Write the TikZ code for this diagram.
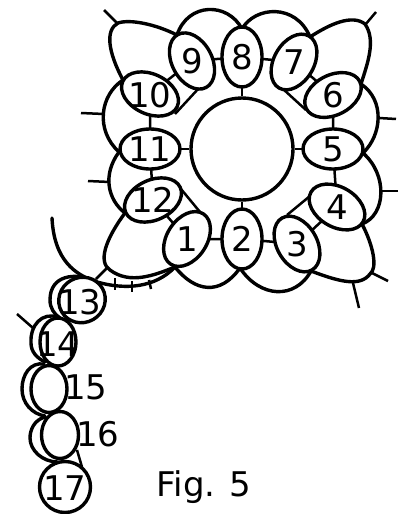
\documentclass[tikz,border=0pt]{standalone}
\usepackage{fontspec}
\setmainfont{DejaVu Sans}
\usetikzlibrary{shapes.geometric}
\tikzset{
  ln/.style={line width=3.4pt,line cap=round,line join=round,black},
  thin ln/.style={line width=2.5pt,line cap=butt,black},
  bead/.style={ellipse,draw,line width=3.4pt,fill=white,inner sep=0pt,outer sep=0pt,minimum width=40pt,minimum height=60pt},
  num/.style={font=\fontsize{34}{34}\selectfont,inner sep=0pt,text=black}
}
\begin{document}
\begin{tikzpicture}[x=1pt,y=-1pt]
\useasboundingbox (0,0) rectangle (406,514);
% junctions
\coordinate (j98) at (177,35);
\coordinate (j87) at (242,29);
\coordinate (j76) at (310,37);
\coordinate (j61) at (361,84);
\coordinate (j65) at (363,153);
\coordinate (j43) at (362,224);
\coordinate (j32) at (311,271);
\coordinate (j21) at (240,268);
\coordinate (j10) at (175,267);
\coordinate (j12) at (125,213);
\coordinate (j11) at (119,152);
\coordinate (j1011) at (123,80);
% picot tips
\coordinate (p1) at (104,10);  \coordinate (p1b) at (118,24);
\coordinate (p2) at (376,12);  \coordinate (p2b) at (365,25);
\coordinate (p3) at (396,119); \coordinate (p3b) at (379,118);
\coordinate (p4) at (81,113);  \coordinate (p4b) at (104,114);
\coordinate (p5) at (398,191); \coordinate (p5b) at (380,191);
\coordinate (p6) at (88,181);  \coordinate (p6b) at (110,182);
\coordinate (p7) at (388,281); \coordinate (p7b) at (372,273);
\coordinate (p8) at (359,308); \coordinate (p8b) at (353,283);
\coordinate (p9) at (96,279);  \coordinate (p9b) at (107,268);
\coordinate (p10) at (17,314); \coordinate (p10b) at (33,328);
% picots
\foreach \i in {1,...,10} \draw[thin ln] (p\i) -- (p\i b);
% rings
\draw[ln] (j98) .. controls (155,24) and (130,19) .. (118,23) .. controls (105,30) and (108,52) .. (j1011);
\draw[ln] (j98) .. controls (188,2) and (228,2) .. (j87);
\draw[ln] (j87) .. controls (255,6) and (296,3) .. (j76);
\draw[ln] (j76) .. controls (330,24) and (352,14) .. (365,24) .. controls (376,40) and (368,62) .. (j61);
\draw[ln] (j61) .. controls (385,100) and (382,135) .. (j65);
\draw[ln] (j1011) .. controls (100,95) and (95,130) .. (j11);
\draw[ln] (j65) .. controls (388,175) and (386,215) .. (j43);
\draw[ln] (j11) .. controls (102,175) and (108,200) .. (j12);
\draw[ln] (j43) .. controls (373,245) and (378,268) .. (370,274) .. controls (360,287) and (340,282) .. (j32);
\draw[ln] (j32) .. controls (295,300) and (260,298) .. (j21);
\draw[ln] (j21) .. controls (220,296) and (195,292) .. (j10);
\draw[ln] (j12) .. controls (105,240) and (98,262) .. (110,270) .. controls (130,285) and (155,275) .. (j10);
% thread
\coordinate (tend) at (52,218);
\draw[ln] (tend) .. controls (54,260) and (75,275) .. (97,282) .. controls (125,290) and (155,288) .. (j10);
\coordinate (t1) at (115,278); \coordinate (t1b) at (115,290);
\coordinate (t2) at (132,281); \coordinate (t2b) at (132,292);
\coordinate (t3) at (149,280); \coordinate (t3b) at (151,289);
\foreach \i in {1,2,3} \draw[thin ln] (t\i) -- (t\i b);
% chain outer arcs
\coordinate (c1) at (95,281); \coordinate (c2) at (60,318);
\coordinate (c3) at (58,317); \coordinate (c4) at (45,362);
\coordinate (c5) at (44,364); \coordinate (c6) at (45,416);
\coordinate (c7) at (45,417); \coordinate (c8) at (58,462);
\draw[ln] (c1) .. controls (75,272) and (50,275) .. (50,300) .. controls (50,308) and (54,314) .. (c2);
\draw[ln] (c3) .. controls (42,312) and (30,325) .. (31,343) .. controls (31,352) and (37,358) .. (c4);
\draw[ln] (c5) .. controls (30,362) and (22,375) .. (22,389) .. controls (22,403) and (32,414) .. (c6);
\draw[ln] (c7) .. controls (34,420) and (30,430) .. (30,438) .. controls (30,450) and (42,462) .. (c8);
% centre
\node[circle,draw,line width=3.4pt,fill=white,minimum size=102pt,inner sep=0pt] (c) at (242,149) {};
% beads
\node[bead,rotate=-33] (n1) at (187,239) {};
\node[bead] (n2) at (242,239) {};
\node[bead,rotate=30] (n3) at (297,244) {};
\node[bead,rotate=60] (n4) at (337,207) {};
\node[bead,rotate=90] (n5) at (333,149) {};
\node[bead,rotate=-63] (n6) at (333,95) {};
\node[bead,rotate=-30] (n7) at (294,62) {};
\node[bead] (n8) at (242,57) {};
\node[bead,rotate=28] (n9) at (192,61) {};
\node[bead,rotate=65] (n10) at (150,94) {};
\node[bead,rotate=90] (n11) at (150,149) {};
\node[bead,rotate=-65] (n12) at (153,200) {};
\node[bead,minimum width=45pt,minimum height=47pt,rotate=-60] (n13) at (82,300) {};
\node[bead,minimum width=36pt,minimum height=48pt] (n14) at (58,342) {};
\node[bead,minimum width=36pt,minimum height=47pt] (n15) at (49,389) {};
\node[bead,minimum width=37pt,minimum height=47pt] (n16) at (60,435) {};
\node[bead,minimum width=51pt,minimum height=51pt] (n17) at (65,487) {};
% stems
\foreach \a/\b in {n9/n8,n8/n7,n10/n9,n7/n6,n10/n11,n6/n5,n11/n12,n5/n4,n12/n1,n4/n3,n1/n2,n2/n3,n8/c,n2/c,n11/c,n5/c}
  \draw[thin ln] (\a) -- (\b);
% tangent bars
\coordinate (a9) at (199,88);  \coordinate (a10) at (175,114);
\coordinate (a7) at (283,89);  \coordinate (a6) at (306,110);
\coordinate (a12) at (181,189); \coordinate (a1) at (200,212);
\coordinate (a4) at (310,196); \coordinate (a3) at (287,215);
\coordinate (a16) at (77,450); \coordinate (a17) at (82,467);
\foreach \a/\b in {a9/a10,a7/a6,a12/a1,a4/a3,a16/a17}
  \draw[thin ln] (\a) -- (\b);
% numbers
\node[num] at (n1) {1};
\node[num] at (n2) {2};
\node[num] at (n3) {3};
\node[num] at (n4) {4};
\node[num] at (n5) {5};
\node[num] at (n6) {6};
\node[num] at (n7) {7};
\node[num] at (n8) {8};
\node[num] at (n9) {9};
\node[num] at (150,95) {10};
\node[num] at (n11) {11};
\node[num] at (n12) {12};
\node[num] at (80,302) {13};
\node[num] at (58,344) {14};
\node[num] (l15) at (86,387) {15};
\node[num] (l16) at (98,434) {16};
\node[num] at (65,488) {17};
\node[num] (fig) at (204,487) {Fig. 5};
\end{tikzpicture}
\end{document}
